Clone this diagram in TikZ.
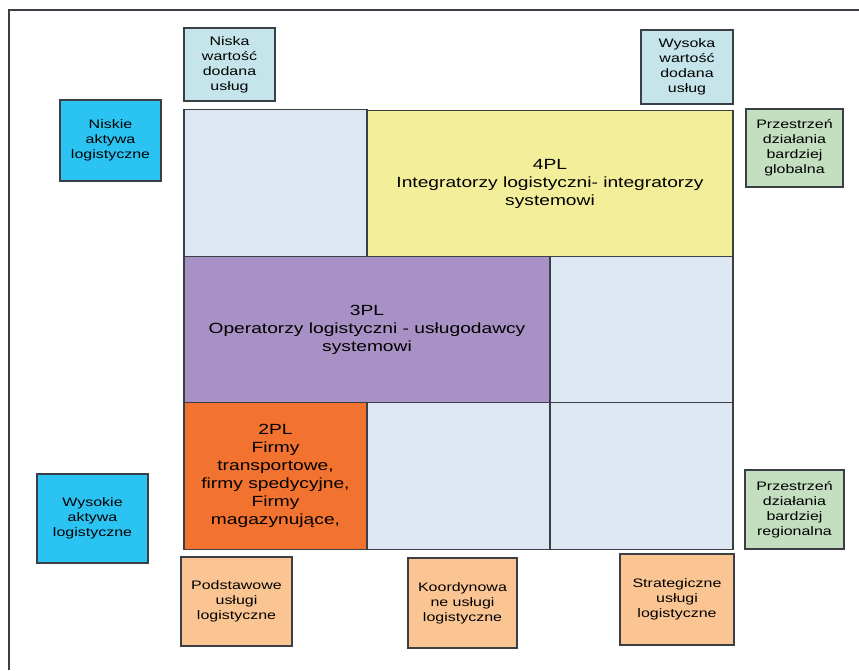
\documentclass[tikz,border=0pt]{standalone}
\usepackage{fontspec}
\setmainfont{Liberation Sans}[FakeStretch=1.3]
\usepackage{tikz}

\definecolor{cellblue}{HTML}{DDE7F1}
\definecolor{fourpl}{HTML}{F2EE99}
\definecolor{threepl}{HTML}{A891C4}
\definecolor{twopl}{HTML}{F2722F}
\definecolor{valueblue}{HTML}{C5E5EA}
\definecolor{assetblue}{HTML}{2BC4F2}
\definecolor{rangegreen}{HTML}{C3DFC0}
\definecolor{servicepeach}{HTML}{FBC593}
\definecolor{edgegray}{HTML}{3A3F45}

\begin{document}
\begin{tikzpicture}[x=0.02cm, y=-0.02cm,
    cell/.style={draw=edgegray, line width=0.8pt, rectangle, inner sep=0pt,
      minimum height=2.93cm, align=center, font=\fontsize{8.4}{10.2}\selectfont},
    tag/.style={draw=edgegray, line width=0.7pt, rectangle, inner sep=0pt,
      align=center, font=\fontsize{7}{8.5}\selectfont}]
    \useasboundingbox (0,0) rectangle (859,670);
    \coordinate (FrameTop)    at (859,10);
    \coordinate (FrameCorner) at (9,10);
    \coordinate (FrameBottom) at (9,670);
    \draw [edgegray, line width=0.9pt] (FrameTop) -- (FrameCorner) -- (FrameBottom);% Frame

    % Matrix of service levels
    \node[cell, fill=cellblue, minimum width=3.66cm] (CellA) at (275.5,183) {};
    \node[cell, fill=fourpl,   minimum width=7.32cm] (FourPL) at (550,184)
        {4PL\\Integratorzy logistyczni- integratorzy\\systemowi};
    \node[cell, fill=threepl,  minimum width=7.32cm] (ThreePL) at (367,329.5)
        {3PL\\Operatorzy logistyczni - usługodawcy\\systemowi};
    \node[cell, fill=cellblue, minimum width=3.66cm] (CellB) at (641.5,329.5) {};
    \node[cell, fill=twopl,    minimum width=3.66cm] (TwoPL) at (275.5,476)
        {2PL\\Firmy\\transportowe,\\firmy spedycyjne,\\Firmy\\magazynujące,};
    \node[cell, fill=cellblue, minimum width=3.66cm] (CellC) at (458.5,476) {};
    \node[cell, fill=cellblue, minimum width=3.66cm] (CellD) at (641.5,476) {};

    % Labels round the matrix
    \node[tag, fill=valueblue, minimum width=1.82cm, minimum height=1.46cm]
        (LowValue) at (229.5,64.5) {Niska\\wartość\\dodana\\usług};
    \node[tag, fill=valueblue, minimum width=1.84cm, minimum height=1.48cm]
        (HighValue) at (687,67) {Wysoka\\wartość\\dodana\\usług};
    \node[tag, fill=assetblue, minimum width=2.02cm, minimum height=1.62cm]
        (LowAssets) at (110.5,140.5) {Niskie\\aktywa\\logistyczne};
    \node[tag, fill=assetblue, minimum width=2.22cm, minimum height=1.78cm]
        (HighAssets) at (92.5,518.5) {Wysokie\\aktywa\\logistyczne};
    \node[tag, fill=rangegreen, minimum width=1.94cm, minimum height=1.56cm]
        (GlobalRange) at (794.5,148) {Przestrzeń\\działania\\bardziej\\globalna};
    \node[tag, fill=rangegreen, minimum width=1.98cm, minimum height=1.58cm]
        (RegionalRange) at (794.5,509.5) {Przestrzeń\\działania\\bardziej\\regionalna};
    \node[tag, fill=servicepeach, minimum width=2.22cm, minimum height=1.78cm]
        (BasicServ) at (236.5,601.5) {Podstawowe\\usługi\\logistyczne};
    \node[tag, fill=servicepeach, minimum width=2.18cm, minimum height=1.80cm]
        (CoordServ) at (462.5,603) {Koordynowa\\ne usługi\\logistyczne};
    \node[tag, fill=servicepeach, minimum width=2.28cm, minimum height=1.82cm]
        (StratServ) at (677,599.5) {Strategiczne\\usługi\\logistyczne};
\end{tikzpicture}
\end{document}
